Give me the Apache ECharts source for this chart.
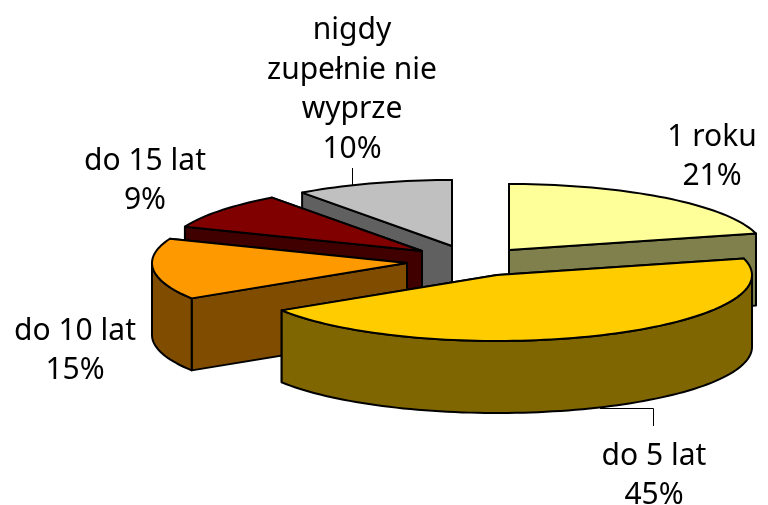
<!DOCTYPE html>
<html>
<head>
<meta charset="utf-8">
<style>html,body{margin:0;padding:0;background:#fff}#c{width:768px;height:505px}</style>
<script src="https://cdn.jsdelivr.net/npm/echarts@6/dist/echarts.min.js"></script>
</head>
<body>
<div id="c"></div>
<script>
var categories = ['1 roku', 'do 5 lat', 'do 10 lat', 'do 15 lat', 'nigdy\nzupełnie nie\nwyprze'];
var shares = [21, 45, 15, 9, 10];

var topColors = ['#FFFF99', '#FFCC00', '#FF9900', '#800000', '#C0C0C0'];
var sideColors = ['#80804D', '#806600', '#804D00', '#400000', '#606060'];
var apexX = [509, 497, 407, 422, 452];
var apexY = [250, 275, 263, 251, 246];
var stackOrder = [4, 3, 2, 0, 1];
var labelX = [712, 654, 75, 145, 352];
var labelY = [157, 476, 351, 181, 90];
var leaders = [null, [[600, 408.5], [653.5, 408.5], [653.5, 426]], null, null, [[352.5, 168], [352.5, 185]]];
var radiusX = 255, radiusY = 66, depth = 72;
var fontSpec = '30px "Noto Sans"';
var lineGap = 39.5;

var total = shares.reduce(function (a, b) { return a + b; }, 0);

function arcPoints(cx, cy, from, to, dy) {
  var pts = [], n = Math.max(2, Math.ceil((to - from) / 0.03));
  for (var i = 0; i <= n; i++) {
    var t = from + (to - from) * i / n;
    pts.push([cx + radiusX * Math.sin(t), cy - radiusY * Math.cos(t) + dy]);
  }
  return pts;
}

function face(points, fill, z) {
  return {
    type: 'polygon', z2: z,
    shape: { points: points },
    style: { fill: fill, stroke: '#000', lineWidth: 2, lineJoin: 'round' }
  };
}

function wall(cx, cy, t, fill, z) {
  var x = cx + radiusX * Math.sin(t), y = cy - radiusY * Math.cos(t);
  return face([[cx, cy], [x, y], [x, y + depth], [cx, cy + depth]], fill, z);
}

function renderSlice(params, api) {
  var i = params.dataIndex, before = 0;
  for (var k = 0; k < i; k++) before += shares[k];
  var a0 = before / total * 2 * Math.PI;
  var a1 = (before + api.value(0)) / total * 2 * Math.PI;
  var cx = apexX[i], cy = apexY[i];
  var base = stackOrder.indexOf(i) * 10 + 1;
  var a0Front = -Math.cos(a0) > -Math.cos(a1);
  var kids = [
    wall(cx, cy, a0, sideColors[i], base + (a0Front ? 1 : 0)),
    wall(cx, cy, a1, sideColors[i], base + (a0Front ? 0 : 1))
  ];
  var s = Math.max(a0, Math.PI / 2), e = Math.min(a1, 3 * Math.PI / 2);
  if (e > s) {
    var up = arcPoints(cx, cy, s, e, 0);
    var down = arcPoints(cx, cy, s, e, depth).reverse();
    kids.push(face(up.concat(down), sideColors[i], base + 2));
  }
  kids.push(face([[cx, cy]].concat(arcPoints(cx, cy, a0, a1, 0)), topColors[i], base + 3));
  if (leaders[i]) {
    kids.push({
      type: 'polyline', z2: 100,
      shape: { points: leaders[i] },
      style: { fill: null, stroke: '#000', lineWidth: 1 }
    });
  }
  kids.push({
    type: 'text', z2: 101,
    style: {
      text: categories[i] + '\n' + Math.round(api.value(0) / total * 100) + '%',
      x: labelX[i], y: labelY[i],
      font: fontSpec, lineHeight: lineGap,
      fill: '#000', align: 'center', verticalAlign: 'middle'
    }
  });
  return { type: 'group', children: kids };
}

var chart = echarts.init(document.getElementById('c'), null, { renderer: 'canvas' });
chart.setOption({
  animation: false,
  backgroundColor: '#fff',
  series: [{
    type: 'custom',
    coordinateSystem: 'none',
    silent: true,
    renderItem: renderSlice,
    data: shares.map(function (v) { return [v]; })
  }]
});
</script>
</body>
</html>
